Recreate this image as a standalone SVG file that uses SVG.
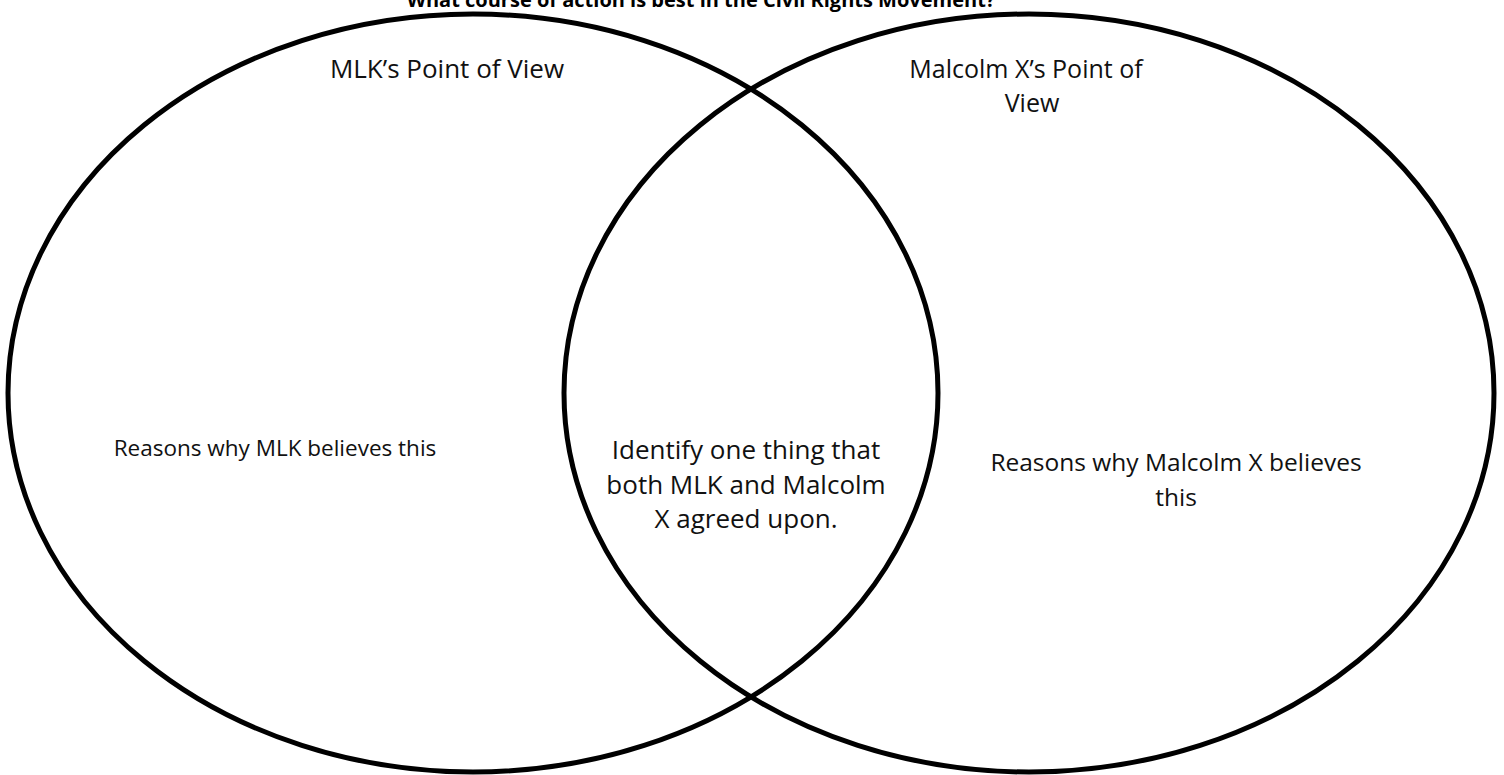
<svg xmlns="http://www.w3.org/2000/svg" width="1504" height="775" viewBox="0 0 1504 775">
  <style>
    .ring { fill: none; stroke: #000; stroke-width: 5; }
    .lbl { font-family: "Open Sans", "Noto Sans", sans-serif; font-size: 25px; fill: #111; text-anchor: middle; }
    .title { font-family: "Open Sans", "Noto Sans", sans-serif; font-size: 20px; font-weight: bold; fill: #000; text-anchor: middle; }
  </style>
  <rect width="1504" height="775" fill="#fff"/>
  <text class="title" x="701" y="7">What course of action is best in the Civil Rights Movement?</text>
  <g id="mlk">
    <ellipse class="ring" cx="473" cy="393" rx="465" ry="379"/>
    <text class="lbl" x="447" y="78" style="font-size:26px">MLK’s Point of View</text>
    <text class="lbl" x="275" y="456" style="font-size:22.5px">Reasons why MLK believes this</text>
  </g>
  <g id="malcolm">
    <ellipse class="ring" cx="1029" cy="393" rx="465" ry="379"/>
    <text class="lbl" x="1026" y="78">Malcolm X’s Point of</text>
    <text class="lbl" x="1032" y="112">View</text>
    <text class="lbl" x="1176" y="471" style="font-size:24.5px">Reasons why Malcolm X believes</text>
    <text class="lbl" x="1176" y="506" style="font-size:24.5px">this</text>
  </g>
  <g id="both" style="font-size:26px">
    <text class="lbl" x="746" y="459" style="font-size:26px">Identify one thing that</text>
    <text class="lbl" x="746" y="494" style="font-size:26px">both MLK and Malcolm</text>
    <text class="lbl" x="746" y="528" style="font-size:26px">X agreed upon.</text>
  </g>
  <g id="connectors"/>
</svg>
